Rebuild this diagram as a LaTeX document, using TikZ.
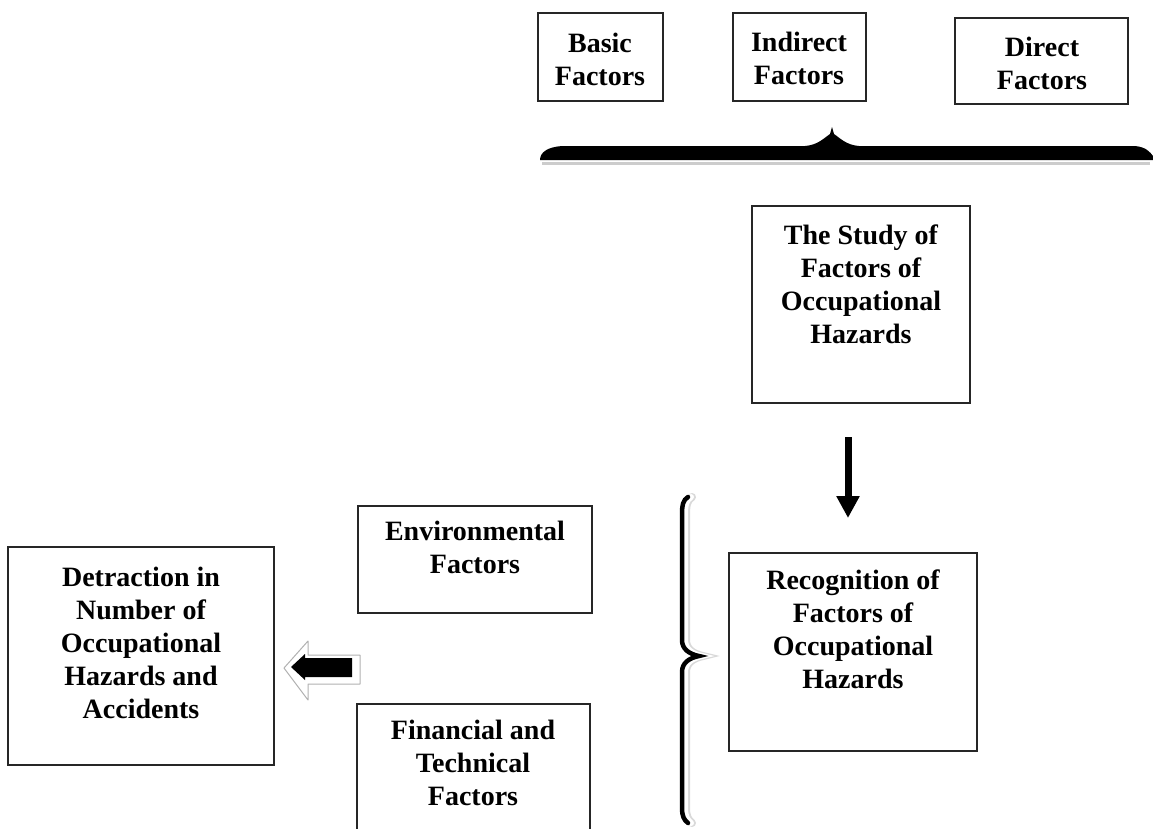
\documentclass[tikz,border=0pt]{standalone}
\usepackage{fontspec}
\setmainfont{Liberation Serif}
\usetikzlibrary{arrows.meta}
\begin{document}
\begin{tikzpicture}[x=1pt,y=-1pt,
  box/.style={draw=black!85, line width=1.3pt, inner sep=0pt, fill=white},
  lbl/.style={font=\bfseries\fontsize{28}{33}\selectfont, align=center, inner sep=0pt, anchor=north},
  thickarrow/.style={line width=7pt, -{Triangle[width=22pt,length=22pt]}}]
\useasboundingbox (0,0) rectangle (1153,828);
\fill[white] (0,0) rectangle (1153,828);

% top boxes
\node[box, minimum width=125pt, minimum height=88pt] (basic) at (600.5,57) {};
\node[lbl] (basicT) at (600,33) {Basic\\Factors};
\node[box, minimum width=133pt, minimum height=88pt] (indirect) at (799.5,57) {};
\node[lbl] (indirectT) at (799,32) {Indirect\\Factors};
\node[box, minimum width=173pt, minimum height=86pt] (direct) at (1041.5,61) {};
\node[lbl] (directT) at (1042,37) {Direct\\Factors};

% top horizontal brace
\fill[black!20] (542,162) -- (1150,162) -- (1150,165) -- (542,165) -- cycle;
\fill[black] (540,160) .. controls (540,152) and (548,147) .. (562,146)
  -- (805,146) .. controls (818,145) and (824,138) .. (830,134)
  -- (832,127) -- (834,134)
  .. controls (840,138) and (846,145) .. (859,146)
  -- (1135,146) .. controls (1146,147) and (1150,152) .. (1153,156)
  -- (1153,160) -- cycle;

% study and recognition
\node[box, minimum width=218pt, minimum height=197pt] (study) at (861,304.5) {};
\node[lbl] (studyT) at (861,225) {The Study of\\Factors of\\Occupational\\Hazards};
\node[box, minimum width=248pt, minimum height=198pt] (recog) at (853,652) {};
\node[lbl] (recogT) at (853,570) {Recognition of\\Factors of\\Occupational\\Hazards};
\coordinate (dA) at (848,437);
\coordinate (dB) at (848,518);
\draw[thickarrow] (dA) -- (dB);

% vertical brace
\def\bracepath{(689,497) .. controls (684,500) and (683,505) .. (683,515)
  -- (683,640) .. controls (683,649) and (690,654) .. (700,656)
  .. controls (690,658) and (683,663) .. (683,672)
  -- (683,808) .. controls (683,816) and (685,820) .. (689,823)}
\draw[black!15, line width=8pt, line cap=round, xshift=3pt] \bracepath;
\draw[white, line width=6pt, line cap=round, xshift=2pt] \bracepath;
\draw[black, line width=4.5pt, line cap=round, xshift=-1pt] \bracepath;

% left column boxes
\node[box, minimum width=234pt, minimum height=107pt] (env) at (475,559.5) {};
\node[lbl] (envT) at (475,521) {Environmental\\Factors};
\node[box, minimum width=233pt, minimum height=146pt] (fin) at (473.5,777) {};
\node[lbl] (finT) at (473,720) {Financial and\\Technical\\Factors};
\node[box, minimum width=266pt, minimum height=218pt] (detr) at (141,656) {};
\node[lbl] (detrT) at (141,567) {Detraction in\\Number of\\Occupational\\Hazards and\\Accidents};

% left block arrow (white outline with black arrow)
\draw[black!30, fill=white, line width=1pt, line join=round]
  (284,668) -- (308,641) -- (308,655) -- (360,655) -- (360,684) -- (308,684) -- (308,700) -- cycle;
\fill[black] (291,667) -- (305,654) -- (305,658) -- (352,658) -- (352,677) -- (305,677) -- (305,680) -- cycle;
\end{tikzpicture}
\end{document}
